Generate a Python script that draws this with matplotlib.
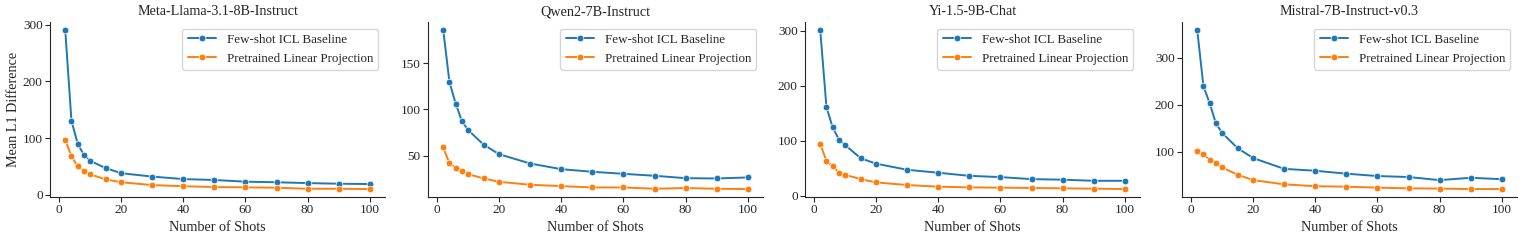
import numpy as np
import matplotlib
matplotlib.use("Agg")
import matplotlib.pyplot as plt
import seaborn as sns

shots = [2, 4, 6, 8, 10, 15, 20, 30, 40, 50, 60, 70, 80, 90, 100]

models = ["Meta-Llama-3.1-8B-Instruct", "Qwen2-7B-Instruct", "Yi-1.5-9B-Chat", "Mistral-7B-Instruct-v0.3"]

icl_llama = [291, 131, 90, 70.5, 60, 47, 38, 32, 27.6, 26, 23, 22, 20.5, 19.4, 18.8]
proj_llama = [97, 68, 50, 42, 36, 27, 22, 17, 15, 13.5, 13, 12.3, 10.5, 10.5, 10]

icl_qwen = [185.7, 129.6, 106.4, 87.5, 77.9, 62.1, 51.8, 41.8, 35.7, 32.9, 30.7, 28.6, 26, 25.7, 26.8]
proj_qwen = [59.3, 42, 37.5, 34, 30.4, 25.7, 22.1, 18.9, 17.5, 16, 16, 14.6, 15.4, 14.6, 14.3]

icl_yi = [301, 161, 124, 102, 92, 68, 58, 47, 41.6, 36, 33.7, 30, 29, 27, 27]
proj_yi = [94, 63, 53.6, 42, 38, 30, 24, 19.3, 16.3, 15, 14.5, 14, 13.3, 12.7, 12]

icl_mistral = [359, 239, 203, 160, 139.6, 107, 86, 63, 59, 52.7, 47.7, 45.6, 39, 44, 41]
proj_mistral = [101, 94, 82, 76, 66, 50.5, 39, 30, 26, 25, 23, 21.5, 21, 20, 20]

icl_all = [icl_llama, icl_qwen, icl_yi, icl_mistral]
proj_all = [proj_llama, proj_qwen, proj_yi, proj_mistral]

sns.set_style("ticks")
plt.rcParams["font.family"] = ["Liberation Serif", "DejaVu Serif"]

W, H = 1522, 240
fig = plt.figure(figsize=(W / 100, H / 100), dpi=100)

lefts = [50, 428, 805, 1182]
ax_w, ax_top, ax_bot = 335, 22, 197

for i, (name, icl, proj) in enumerate(zip(models, icl_all, proj_all)):
    ax = fig.add_axes([lefts[i] / W, 1 - ax_bot / H, ax_w / W, (ax_bot - ax_top) / H])
    ax.plot(shots, icl, marker="o", ms=4.8, mec="white", mew=0.5, lw=1.4,
            color="#1f77b4", label="Few-shot ICL Baseline")
    ax.plot(shots, proj, marker="o", ms=4.8, mec="white", mew=0.5, lw=1.4,
            color="#ff7f0e", label="Pretrained Linear Projection")
    ax.set_title(name, fontsize=10.2, pad=5)
    ax.set_xlabel("Number of Shots", fontsize=10.2, labelpad=3.5)
    if i == 0:
        ax.set_ylabel("Mean L1 Difference", fontsize=10.2, labelpad=2)
    ax.set_xticks([0, 20, 40, 60, 80, 100])
    ax.tick_params(labelsize=9.5, length=3.5, pad=1.8)
    ax.legend(loc="upper right", fontsize=9.4, handlelength=2.2,
              borderaxespad=0.5, labelspacing=0.5)
    sns.despine(ax=ax)

fig.savefig("out.png", dpi=100)
